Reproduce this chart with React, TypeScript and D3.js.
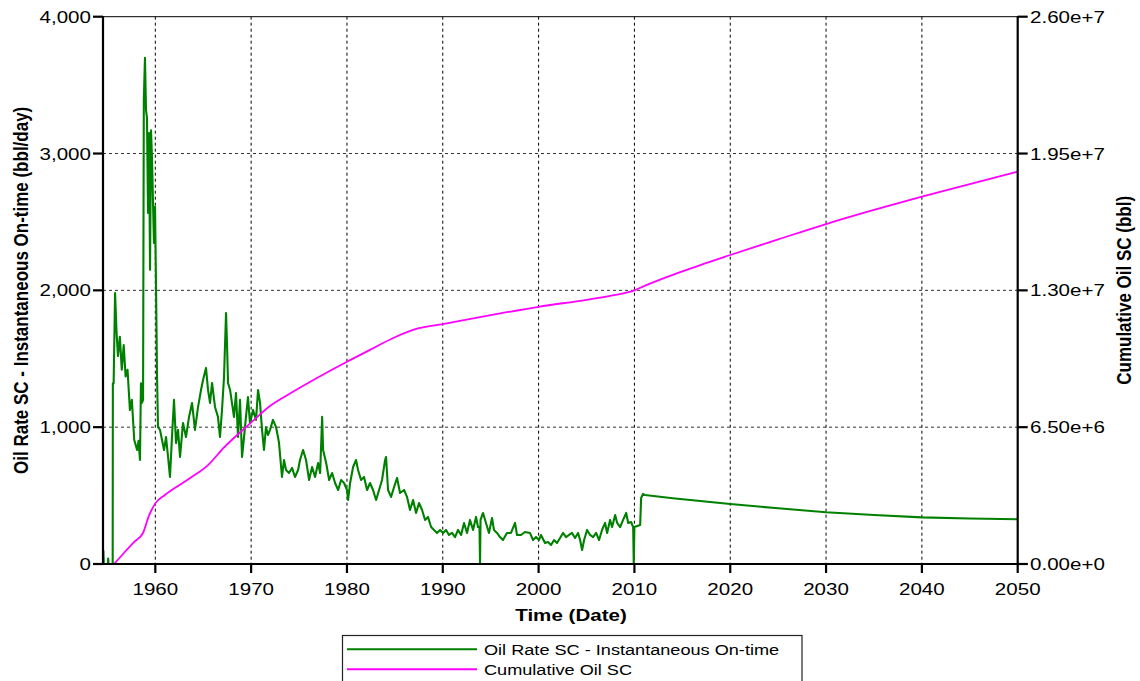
import React, { useEffect, useRef } from 'react';
import * as d3 from 'd3';

// tick values
const yearTicks = [1960, 1970, 1980, 1990, 2000, 2010, 2020, 2030, 2040, 2050];
const rateTicks = [0, 1000, 2000, 3000, 4000];
const cumTicks = [0, 6.5e6, 1.3e7, 1.95e7, 2.6e7];

// Oil rate (bbl/day), history  [decimal year, rate]
const rateEarly: [number, number][] = [
  [1954.56, 0], [1954.58, 95], [1954.62, 0], [1955.05, 0], [1955.08, 40], [1955.12, 0],
  [1955.55, 0], [1955.57, 1320], [1955.65, 1320], [1955.8, 1980], [1955.95, 1700],
  [1956.1, 1520], [1956.3, 1660], [1956.5, 1420], [1956.7, 1600], [1956.9, 1370],
  [1957.1, 1420], [1957.35, 1125], [1957.55, 1200], [1957.8, 906], [1958.1, 833],
  [1958.25, 900], [1958.4, 760], [1958.5, 1320], [1958.6, 1177], [1958.72, 1200],
  [1958.8, 3392], [1958.92, 3700], [1959.03, 3318], [1959.13, 3260], [1959.24, 2566],
  [1959.34, 3150], [1959.45, 2150], [1959.55, 3170], [1959.66, 2950], [1959.76, 2640],
  [1959.86, 2346], [1959.97, 2610], [1960.07, 2050], [1960.18, 1370], [1960.28, 1000],
];

const rateMid: [number, number][] = [
  [1960.49, 980], [1960.7, 906], [1960.91, 833], [1961.12, 928], [1961.33, 782],
  [1961.53, 636], [1961.74, 930], [1961.95, 1200], [1962.16, 884], [1962.37, 980],
  [1962.58, 782], [1962.89, 1030], [1963.2, 928], [1963.52, 1075], [1963.83, 1177],
  [1964.14, 980], [1964.46, 1148], [1964.77, 1272], [1964.98, 1345], [1965.29, 1433],
  [1965.5, 1272], [1965.71, 1177], [1965.92, 1323], [1966.23, 1148], [1966.54, 1075],
  [1966.75, 928], [1966.96, 1126], [1967.17, 1367], [1967.38, 1835], [1967.48, 1615],
  [1967.59, 1323], [1967.8, 1272], [1968.0, 1177], [1968.21, 1075], [1968.42, 1250],
  [1968.63, 928], [1968.84, 1200], [1969.05, 782], [1969.26, 928], [1969.46, 1075],
  [1969.67, 1220], [1969.88, 1030], [1970.2, 1126], [1970.51, 1053], [1970.72, 1272],
  [1970.93, 1177], [1971.14, 980], [1971.34, 833], [1971.55, 1000], [1971.76, 943],
  [1971.97, 980], [1972.28, 1053], [1972.6, 1000], [1972.8, 928], [1972.91, 884],
  [1973.22, 636], [1973.43, 760], [1973.64, 687], [1973.95, 665], [1974.27, 702],
  [1974.58, 636], [1974.9, 687], [1975.1, 760], [1975.42, 833], [1975.73, 760],
  [1976.05, 614], [1976.36, 709], [1976.67, 636], [1976.99, 738], [1977.2, 665],
  [1977.41, 1075], [1977.51, 833], [1977.83, 738], [1978.14, 614], [1978.45, 665],
  [1978.76, 592], [1979.08, 541], [1979.39, 614], [1979.7, 592], [1980.01, 541],
  [1980.12, 468], [1980.33, 592], [1980.64, 709], [1980.95, 760], [1981.16, 687],
  [1981.47, 614], [1981.78, 636], [1982.1, 541], [1982.41, 592], [1982.72, 541],
  [1983.04, 468], [1983.35, 541], [1983.66, 614], [1983.98, 760], [1984.08, 782],
  [1984.29, 541], [1984.6, 490], [1984.92, 563], [1985.23, 629], [1985.54, 519],
  [1985.96, 541], [1986.27, 490], [1986.58, 395], [1986.9, 468], [1987.21, 373],
  [1987.52, 446], [1987.84, 395], [1988.15, 322], [1988.46, 344], [1988.78, 270],
];

const rateLate: [number, number][] = [
  [1989.09, 249], [1989.4, 227], [1989.72, 249], [1990.03, 227], [1990.34, 249],
  [1990.65, 212], [1990.97, 227], [1991.28, 197], [1991.59, 249], [1991.91, 212],
  [1992.22, 300], [1992.53, 227], [1992.84, 322], [1993.16, 249], [1993.47, 344],
  [1993.68, 270], [1993.83, 270], [1993.89, 0], [1993.94, 322], [1994.2, 373],
  [1994.51, 300], [1994.82, 227], [1995.14, 336], [1995.34, 249], [1995.66, 227],
  [1995.97, 197], [1996.28, 175], [1996.7, 227], [1997.12, 227], [1997.54, 300],
  [1997.75, 212], [1998.16, 212], [1998.58, 234], [1999.1, 227], [1999.42, 175],
  [1999.73, 197], [2000.04, 175], [2000.25, 212], [2000.67, 153], [2000.98, 161],
  [2001.3, 139], [2001.61, 175], [2001.92, 153], [2002.24, 190], [2002.55, 227],
  [2002.86, 197], [2003.18, 212], [2003.49, 227], [2003.8, 190], [2004.12, 227],
  [2004.33, 175], [2004.54, 102], [2004.75, 175], [2005.06, 249], [2005.37, 212],
  [2005.69, 197], [2006.0, 227], [2006.31, 175], [2006.62, 249], [2006.94, 300],
  [2007.15, 227], [2007.46, 322], [2007.67, 270], [2007.99, 358], [2008.2, 300],
  [2008.51, 270], [2008.82, 322], [2009.14, 373], [2009.35, 300], [2009.66, 307],
  [2009.87, 270], [2009.93, 0], [2010.0, 270], [2010.6, 285], [2010.7, 482],
  [2010.9, 512], [2011.1, 504],
];

// forecast rate
const rateForecast: [number, number][] = [
  [2014, 480], [2020, 439], [2025, 407], [2030, 378], [2035, 358],
  [2040, 341], [2045, 332], [2050, 327],
];

// cumulative oil (bbl)
const cumulative: [number, number][] = [
  [1955.7, 0], [1956.7, 0.51e6], [1957.8, 1.05e6], [1958.7, 1.46e6], [1959.3, 2.25e6],
  [1960.0, 2.88e6], [1961.0, 3.28e6], [1963.6, 4.07e6], [1965.5, 4.7e6], [1967.1, 5.5e6],
  [1969.9, 6.68e6], [1972.0, 7.52e6], [1974.1, 8.11e6], [1980.0, 9.61e6], [1982.4, 10.17e6],
  [1985.0, 10.77e6], [1987.5, 11.2e6], [1990.0, 11.4e6], [1995.0, 11.82e6], [2000.0, 12.22e6],
  [2005.0, 12.55e6], [2008.0, 12.78e6], [2010.0, 13.0e6], [2011.0, 13.2e6], [2015.0, 13.9e6],
  [2020.0, 14.68e6], [2025.0, 15.42e6], [2030.0, 16.15e6], [2035.0, 16.82e6], [2040.0, 17.45e6],
  [2045.0, 18.05e6], [2050.0, 18.64e6],
];

const FONT = '"Liberation Sans", Arial, sans-serif';
const SX = 1.21; // glyphs in the reference are stretched horizontally

const App = () => {
  const svgRef = useRef<SVGSVGElement>(null);

  useEffect(() => {
    const svg = d3.select(svgRef.current);
    svg.selectAll('*').remove();

    const left = 103, right = 1017.7, top = 16.7, bottom = 564;

    const x = d3.scaleLinear().domain([1954.54, 2050]).range([left, right]);
    const yRate = d3.scaleLinear().domain([0, 4000]).range([bottom, top]);
    const yCum = d3.scaleLinear().domain([0, 2.6e7]).range([bottom, top]);

    const text = (s: string, tx: number, ty: number, anchor: string, size: number, bold = false, rot = 0) =>
      svg.append('text')
        .attr('transform', `translate(${tx},${ty}) scale(${SX},1)${rot ? ` rotate(${rot})` : ''}`)
        .attr('text-anchor', anchor)
        .attr('font-family', FONT)
        .attr('font-size', size)
        .attr('font-weight', bold ? 'bold' : 'normal')
        .attr('fill', '#000')
        .text(s);

    // grid
    svg.append('g')
      .selectAll('line')
      .data(yearTicks.filter(d => d < 2050))
      .enter().append('line')
      .attr('x1', d => x(d)).attr('x2', d => x(d))
      .attr('y1', top).attr('y2', bottom)
      .attr('stroke', '#000').attr('stroke-width', 1)
      .attr('stroke-dasharray', '3,3');

    svg.append('g')
      .selectAll('line')
      .data(rateTicks.filter(d => d > 0 && d < 4000))
      .enter().append('line')
      .attr('x1', left).attr('x2', right)
      .attr('y1', d => yRate(d)).attr('y2', d => yRate(d))
      .attr('stroke', '#333').attr('stroke-width', 1)
      .attr('stroke-dasharray', '3,3');

    // series
    const line = d3.line<[number, number]>().x(d => x(d[0]));

    const ratePts = [...rateEarly, ...rateMid, ...rateLate, ...rateForecast];
    svg.append('path')
      .datum(ratePts)
      .attr('fill', 'none')
      .attr('stroke', '#008000')
      .attr('stroke-width', 2.1)
      .attr('stroke-linejoin', 'round')
      .attr('d', line.y(d => yRate(d[1])));

    svg.append('path')
      .datum(cumulative)
      .attr('fill', 'none')
      .attr('stroke', '#ff00ff')
      .attr('stroke-width', 1.8)
      .attr('d', d3.line<[number, number]>().x(d => x(d[0])).y(d => yCum(d[1])).curve(d3.curveMonotoneX));

    // frame
    svg.append('line').attr('x1', left).attr('x2', right).attr('y1', top).attr('y2', top)
      .attr('stroke', '#000').attr('stroke-width', 1);
    svg.append('line').attr('x1', left).attr('x2', left).attr('y1', top - 0.5).attr('y2', bottom + 1)
      .attr('stroke', '#000').attr('stroke-width', 2.2);
    svg.append('line').attr('x1', right).attr('x2', right).attr('y1', top - 0.5).attr('y2', bottom + 1)
      .attr('stroke', '#000').attr('stroke-width', 2.2);
    svg.append('line').attr('x1', left - 10).attr('x2', right + 10).attr('y1', bottom).attr('y2', bottom)
      .attr('stroke', '#000').attr('stroke-width', 2.2);

    // x ticks
    yearTicks.forEach(t => {
      svg.append('line').attr('x1', x(t)).attr('x2', x(t)).attr('y1', bottom).attr('y2', bottom + 9)
        .attr('stroke', '#000').attr('stroke-width', 2.2);
      text(String(t), x(t), 595, 'middle', 17);
    });

    // left ticks
    rateTicks.forEach(t => {
      svg.append('line').attr('x1', left - 10).attr('x2', left).attr('y1', yRate(t)).attr('y2', yRate(t))
        .attr('stroke', '#000').attr('stroke-width', 2.2);
      text(d3.format(',')(t), 91, yRate(t) + 6, 'end', 17);
    });

    // right ticks
    cumTicks.forEach(t => {
      svg.append('line').attr('x1', right).attr('x2', right + 10).attr('y1', yCum(t)).attr('y2', yCum(t))
        .attr('stroke', '#000').attr('stroke-width', 2.2);
      text(d3.format('.2e')(t), 1030, yCum(t) + 6, 'start', 17);
    });

    // titles
    text('Time (Date)', 571, 621, 'middle', 17, true);
    text('Oil Rate SC - Instantaneous On-time (bbl/day)', 28, (top + bottom) / 2, 'middle', 17, true, -90);
    text('Cumulative Oil SC (bbl)', 1131, (top + bottom) / 2, 'middle', 17, true, -90);

    // legend
    const lg = svg.append('g');
    lg.append('rect')
      .attr('x', 342.5).attr('y', 635.5).attr('width', 459.5).attr('height', 60)
      .attr('fill', '#fff').attr('stroke', '#222').attr('stroke-width', 1.2);
    const items = [
      { label: 'Oil Rate SC - Instantaneous On-time', color: '#008000' },
      { label: 'Cumulative Oil SC', color: '#ff00ff' },
    ];
    items.forEach((it, i) => {
      const ly = 649.3 + i * 20;
      lg.append('line').attr('x1', 347).attr('x2', 477).attr('y1', ly).attr('y2', ly)
        .attr('stroke', it.color).attr('stroke-width', 2);
      text(it.label, 484, ly + 5.5, 'start', 15);
    });
  }, []);

  return (
    <svg
      ref={svgRef}
      width={1140}
      height={681}
      style={{ position: 'absolute', left: 0, top: 0, background: '#fff' }}
    />
  );
};

export default App;
